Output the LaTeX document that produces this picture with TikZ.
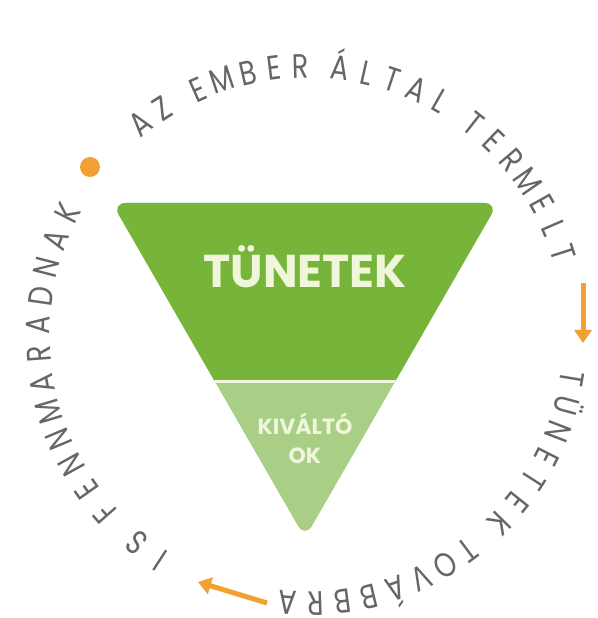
\documentclass[tikz,border=0pt]{standalone}
\usepackage{fontspec}
\setmainfont{Poppins}
\newfontfamily\ringfont{Poppins}[FakeStretch=0.8]
\usetikzlibrary{arrows.meta}
\definecolor{darkleaf}{HTML}{76B539}
\definecolor{paleleaf}{HTML}{A8CF85}
\definecolor{cream}{HTML}{F0F6DA}
\definecolor{ringgray}{HTML}{666666}
\definecolor{pumpkin}{HTML}{F2A032}

\begin{document}
\begin{tikzpicture}[x=1pt,y=1pt,
    ringletter/.style={ringgray,anchor=base,inner sep=0pt,font=\ringfont\fontsize{34}{34}\selectfont},
    turnarrow/.style={pumpkin,line width=5pt,-{Triangle[length=13pt,width=17pt]}}]
    \path[use as bounding box,fill=white] (-307,-283) rectangle (290,335);
    \coordinate (L) at (-195,132);
    \coordinate (R) at (191,132);
    \coordinate (T) at (-2,-203);
    \begin{scope}
        \clip[rounded corners=14pt] (L) -- (R) -- (T) -- cycle;
        \fill[paleleaf] (-307,-283) rectangle (290,335);
        \fill[darkleaf] (-307,-47) rectangle (290,335);
        \draw[cream,line width=3pt] (-307,-47) -- (290,-47);
    \end{scope}
    \node[cream,anchor=base,font=\bfseries\fontsize{46}{46}\selectfont] (tunetek) at (-2,47) {TÜNETEK};
    \node[cream,align=center,font=\bfseries\fontsize{22}{29}\selectfont] (kivalto) at (-2,-103) {KIVÁLTÓ\\OK};
    % betuk a kor menten, orajarassal (szokoz = fel hely)
    \foreach \ch/\k in {A/0,Z/1,E/2.5,M/3.5,B/4.5,E/5.5,R/6.5,Á/8,L/9,T/10,A/11,L/12,
                        T/13.5,E/14.5,R/15.5,M/16.5,E/17.5,L/18.5,T/19.5} {
        \pgfmathsetmacro\a{131-5.659*(\k+0.5)}
        \node[ringletter,rotate=\a-90] (top\k) at (\a:257) {\ch};
    }
    \foreach \ch/\k in {T/0,Ü/1,N/2,E/3,T/4,E/5,K/6,T/7.5,O/8.5,V/9.5,Á/10.5,B/11.5,B/12.5,R/13.5,A/14.5} {
        \pgfmathsetmacro\a{-6.5-5.839*(\k+0.5)}
        \node[ringletter,rotate=\a-90] (right\k) at (\a:257) {\ch};
    }
    \foreach \ch/\k in {I/0,S/1,F/2.5,E/3.5,N/4.5,N/5.5,M/6.5,A/7.5,R/8.5,A/9.5,D/10.5,N/11.5,A/12.5,K/13.5} {
        \pgfmathsetmacro\a{240-6.207*(\k+0.5)}
        \node[ringletter,rotate=\a-90] (left\k) at (\a:257) {\ch};
    }
    \coordinate (r1) at (276,52);
    \coordinate (r2) at (276,-8);
    \coordinate (b1) at (-40,-268);
    \coordinate (b2) at (-109,-247);
    \draw[turnarrow] (r1) -- (r2);
    \draw[turnarrow] (b1) -- (b2);
    \fill[pumpkin] (-217,168) circle (10);
\end{tikzpicture}
\end{document}
